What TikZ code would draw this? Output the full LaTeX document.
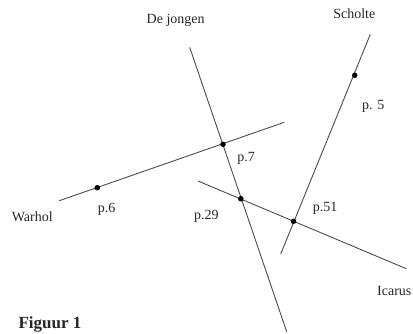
\documentclass[tikz,border=0pt]{standalone}
\usepackage{fontspec}
\setmainfont{Liberation Serif}
\begin{document}
\begin{tikzpicture}[x=1pt, y=-1pt,
    every node/.style={font=\fontsize{14}{16}\selectfont, text=black!85},
    lijn/.style={black!70, line width=0.9pt},
    punt/.style={circle, fill=black, inner sep=0pt, minimum size=5.5pt}]
  \useasboundingbox (0,0) rectangle (413,333);
  % eindpunten van de lijnen
  \coordinate (jongenA) at (189.7,47.3);
  \coordinate (jongenB) at (286.7,331.7);
  \coordinate (warholA) at (59.3,200.7);
  \coordinate (warholB) at (284.3,122.3);
  \coordinate (scholteA) at (370.3,34.3);
  \coordinate (scholteB) at (280.7,254);
  \coordinate (icarusA) at (198,181);
  \coordinate (icarusB) at (406.3,268.7);
  \draw[lijn] (jongenA) -- (jongenB);
  \draw[lijn] (warholA) -- (warholB);
  \draw[lijn] (scholteA) -- (scholteB);
  \draw[lijn] (icarusA) -- (icarusB);
  % punten
  \node[punt] (p7) at (223,144.3) {};
  \node[punt] (p6) at (97.3,187.7) {};
  \node[punt] (p29) at (240.8,198.7) {};
  \node[punt] (p51) at (293.5,221.3) {};
  \node[punt] (p5) at (354.7,75.3) {};
  % namen
  \node[anchor=base] (jongen) at (175.7,23.3) {De jongen};
  \node[anchor=base] (scholte) at (354.3,18.7) {Scholte};
  \node[anchor=base] (warhol) at (32.3,221.7) {Warhol};
  \node[anchor=base] (icarus) at (394.3,295) {Icarus};
  % pagina's
  \node[anchor=base] (lp5) at (373.3,109.3) {p. 5};
  \node[anchor=base] (lp7) at (246,161.7) {p.7};
  \node[anchor=base] (lp6) at (106.7,212.3) {p.6};
  \node[anchor=base] (lp29) at (206.3,219) {p.29};
  \node[anchor=base] (lp51) at (325,211.7) {p.51};
  \node[anchor=base west, font=\fontsize{17}{19}\selectfont\bfseries] (figuur) at (15,328.3) {Figuur 1};
\end{tikzpicture}
\end{document}
